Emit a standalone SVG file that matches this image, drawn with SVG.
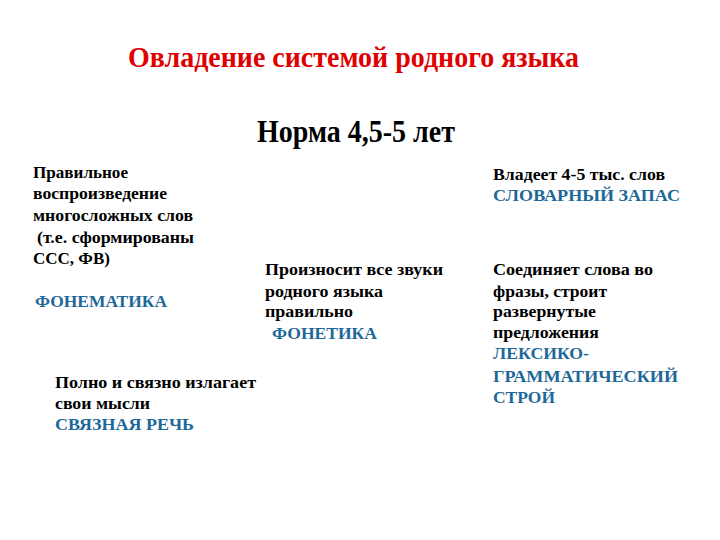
<svg xmlns="http://www.w3.org/2000/svg" width="720" height="540" viewBox="0 0 720 540">
<style>
text{font-family:"Liberation Serif","Times New Roman",serif;font-weight:bold}
.t{fill:#e00000;font-size:30px}
.h{fill:#000;font-size:31px}
.b{fill:#000;font-size:17.5px}
.c{fill:#1d6898;font-size:17px}
</style>
<rect width="720" height="540" fill="#fff"/>
<g id="title"><text class="t" x="128" y="67" textLength="451" lengthAdjust="spacingAndGlyphs">Овладение системой родного языка</text></g>
<g id="subtitle"><text class="h" x="257" y="142" textLength="198" lengthAdjust="spacingAndGlyphs">Норма 4,5-5 лет</text></g>
<g id="phonematics">
<text class="b" x="33" y="178" textLength="95" lengthAdjust="spacingAndGlyphs">Правильное</text>
<text class="b" x="33" y="199" textLength="134" lengthAdjust="spacingAndGlyphs">воспроизведение</text>
<text class="b" x="33" y="221" textLength="160" lengthAdjust="spacingAndGlyphs">многосложных слов</text>
<text class="b" x="37" y="243" textLength="157" lengthAdjust="spacingAndGlyphs">(т.е. сформированы</text>
<text class="b" x="33" y="264" textLength="77" lengthAdjust="spacingAndGlyphs">ССС, ФВ)</text>
<text class="c" x="35" y="307" textLength="132" lengthAdjust="spacingAndGlyphs">ФОНЕМАТИКА</text>
</g>
<g id="phonetics">
<text class="b" x="265" y="275" textLength="178" lengthAdjust="spacingAndGlyphs">Произносит все звуки</text>
<text class="b" x="265" y="297" textLength="118" lengthAdjust="spacingAndGlyphs">родного языка</text>
<text class="b" x="265" y="317" textLength="88" lengthAdjust="spacingAndGlyphs">правильно</text>
<text class="c" x="272" y="339" textLength="105" lengthAdjust="spacingAndGlyphs">ФОНЕТИКА</text>
</g>
<g id="vocabulary">
<text class="b" x="493" y="180" textLength="172" lengthAdjust="spacingAndGlyphs">Владеет 4-5 тыс. слов</text>
<text class="c" x="493" y="201" textLength="187" lengthAdjust="spacingAndGlyphs">СЛОВАРНЫЙ ЗАПАС</text>
</g>
<g id="grammar">
<text class="b" x="493" y="275" textLength="160" lengthAdjust="spacingAndGlyphs">Соединяет слова во</text>
<text class="b" x="493" y="297" textLength="114" lengthAdjust="spacingAndGlyphs">фразы, строит</text>
<text class="b" x="493" y="317" textLength="103" lengthAdjust="spacingAndGlyphs">развернутые</text>
<text class="b" x="493" y="338" textLength="106" lengthAdjust="spacingAndGlyphs">предложения</text>
<text class="c" x="493" y="359" textLength="96" lengthAdjust="spacingAndGlyphs">ЛЕКСИКО-</text>
<text class="c" x="493" y="382" textLength="185" lengthAdjust="spacingAndGlyphs">ГРАММАТИЧЕСКИЙ</text>
<text class="c" x="493" y="403" textLength="62" lengthAdjust="spacingAndGlyphs">СТРОЙ</text>
</g>
<g id="speech">
<text class="b" x="55" y="388" textLength="201" lengthAdjust="spacingAndGlyphs">Полно и связно излагает</text>
<text class="b" x="55" y="409" textLength="95" lengthAdjust="spacingAndGlyphs">свои мысли</text>
<text class="c" x="55" y="430" textLength="139" lengthAdjust="spacingAndGlyphs">СВЯЗНАЯ РЕЧЬ</text>
</g>
<g id="connectors"/>
</svg>
